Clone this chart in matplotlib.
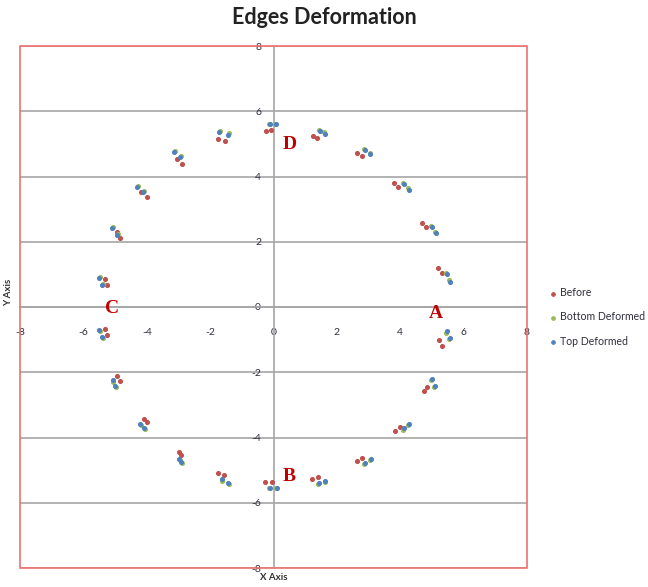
import matplotlib
matplotlib.use("Agg")
import matplotlib.pyplot as plt
import matplotlib.patches as patches

plt.rcParams['font.family'] = ['Lato', 'DejaVu Sans']

# point pairs, going clockwise from D (top)
before_x = [-0.25, -0.08, 1.25, 1.38, 2.64, 2.79, 3.80, 3.93, 4.69, 4.82, 5.19, 5.31,
            5.21, 5.32, 4.74, 4.85, 3.83, 3.98, 2.62, 2.79, 1.23, 1.39, -0.26, -0.06,
            -1.75, -1.55, -2.98, -2.92, -4.10, -3.99, -4.93, -4.85, -5.33, -5.24,
            -5.33, -5.24, -4.93, -4.83, -4.17, -4.00, -3.06, -2.90, -1.75, -1.54]
before_y = [5.40, 5.41, 5.24, 5.19, 4.71, 4.64, 3.79, 3.67, 2.59, 2.44, 1.21, 1.03,
            -1.00, -1.20, -2.58, -2.44, -3.79, -3.69, -4.71, -4.64, -5.27, -5.22, -5.37, -5.37,
            -5.10, -5.16, -4.45, -4.55, -3.42, -3.54, -2.13, -2.26, -0.66, -0.86,
            0.86, 0.66, 2.31, 2.11, 3.54, 3.37, 4.55, 4.39, 5.16, 5.08]

bottom_x = [-0.14, 0.06, 1.44, 1.59, 2.86, 3.03, 4.09, 4.26, 4.97, 5.09, 5.45, 5.53,
            5.44, 5.53, 4.97, 5.07, 4.09, 4.26, 2.86, 3.05, 1.42, 1.61, -0.13, 0.09,
            -1.61, -1.42, -2.94, -2.90, -4.19, -4.07, -5.05, -4.97, -5.49, -5.39,
            -5.49, -5.39, -5.06, -4.92, -4.27, -4.10, -3.10, -2.93, -1.69, -1.42]
bottom_y = [5.61, 5.62, 5.42, 5.35, 4.84, 4.72, 3.81, 3.64, 2.49, 2.31, 1.05, 0.82,
            -0.79, -0.99, -2.24, -2.46, -3.76, -3.63, -4.81, -4.69, -5.43, -5.36, -5.56, -5.56,
            -5.32, -5.43, -4.69, -4.78, -3.63, -3.75, -2.29, -2.45, -0.74, -0.96,
            0.93, 0.71, 2.46, 2.24, 3.72, 3.57, 4.79, 4.64, 5.40, 5.32]

top_x = [-0.12, 0.08, 1.47, 1.62, 2.89, 3.06, 4.12, 4.29, 5.00, 5.12, 5.48, 5.56,
         5.47, 5.56, 5.00, 5.10, 4.12, 4.29, 2.89, 3.08, 1.45, 1.64, -0.11, 0.11,
         -1.64, -1.45, -2.97, -2.93, -4.22, -4.10, -5.08, -5.00, -5.52, -5.42,
         -5.52, -5.42, -5.09, -4.95, -4.30, -4.13, -3.13, -2.96, -1.72, -1.45]
top_y = [5.60, 5.61, 5.38, 5.31, 4.80, 4.68, 3.77, 3.60, 2.45, 2.27, 1.01, 0.78,
         -0.75, -0.95, -2.20, -2.42, -3.72, -3.59, -4.77, -4.65, -5.39, -5.32, -5.55, -5.55,
         -5.28, -5.39, -4.65, -4.74, -3.59, -3.71, -2.25, -2.41, -0.70, -0.92,
         0.89, 0.67, 2.42, 2.20, 3.68, 3.53, 4.75, 4.60, 5.36, 5.28]

ticks = [-8, -6, -4, -2, 0, 2, 4, 6, 8]
edge_labels = ['A', 'B', 'C', 'D']
edge_pos = [(5.14, -0.2), (0.5, -5.2), (-5.08, -0.06), (0.5, 4.97)]

fig = plt.figure(figsize=(6.48, 5.87), dpi=100)
ax = fig.add_axes([20 / 648, 1 - 568 / 587, 507 / 648, 522 / 587])
ax.set_xlim(-8, 8)
ax.set_ylim(-8, 8)

# axes crossing at the origin, pink frame round the plot area
for s in ['top', 'right']:
    ax.spines[s].set_visible(False)
for s in ['left', 'bottom']:
    ax.spines[s].set_position(('data', 0))
    ax.spines[s].set_color('#a6a6a6')
    ax.spines[s].set_linewidth(1.2)
ax.add_patch(patches.Rectangle((0, 0), 1, 1, transform=ax.transAxes, fill=False,
                               edgecolor='#f07070', linewidth=1.2, clip_on=False, zorder=5))

ax.set_xticks(ticks)
ax.set_yticks(ticks)
ax.set_xticklabels([str(t) for t in ticks])
ax.set_yticklabels([str(t) for t in ticks])
ax.tick_params(length=0, labelsize=7.5, colors='#2e2e3e')
ax.tick_params(axis='x', pad=15)
ax.tick_params(axis='y', pad=9)
ax.yaxis.grid(True, color='#a6a6a6', linewidth=1.2)
ax.set_axisbelow(True)

ax.scatter(before_x, before_y, s=7, color='#c0504d', label='Before', zorder=3)
ax.scatter(bottom_x, bottom_y, s=7, color='#9bbb59', label='Bottom Deformed', zorder=3)
ax.scatter(top_x, top_y, s=7, color='#4f81bd', label='Top Deformed', zorder=3)

for lab, (x, y) in zip(edge_labels, edge_pos):
    ax.text(x, y, lab, family='Liberation Serif', fontweight='bold', fontsize=14,
            color='#c00000', ha='center', va='center', zorder=6)

fig.text(0.5, 1 - 17 / 587, 'Edges Deformation', ha='center', va='center',
         fontsize=15.5, fontweight='bold', color='#222222')
fig.text(274 / 648, 1 - 578 / 587, 'X Axis', ha='center', va='center',
         fontsize=7, fontweight='bold', color='#333333')
fig.text(9 / 648, 1 - 292 / 587, 'Y Axis', ha='center', va='center', rotation=90,
         fontsize=7, fontweight='bold', color='#333333')

fig.legend(loc='center left', bbox_to_anchor=(547 / 648, 1 - 317 / 587), frameon=False,
           fontsize=7.6, markerscale=0.9, handletextpad=0.0, labelspacing=1.25,
           handlelength=1.2, labelcolor='#2e2e3e', borderaxespad=0, borderpad=0)

fig.savefig('out.png', dpi=100)
